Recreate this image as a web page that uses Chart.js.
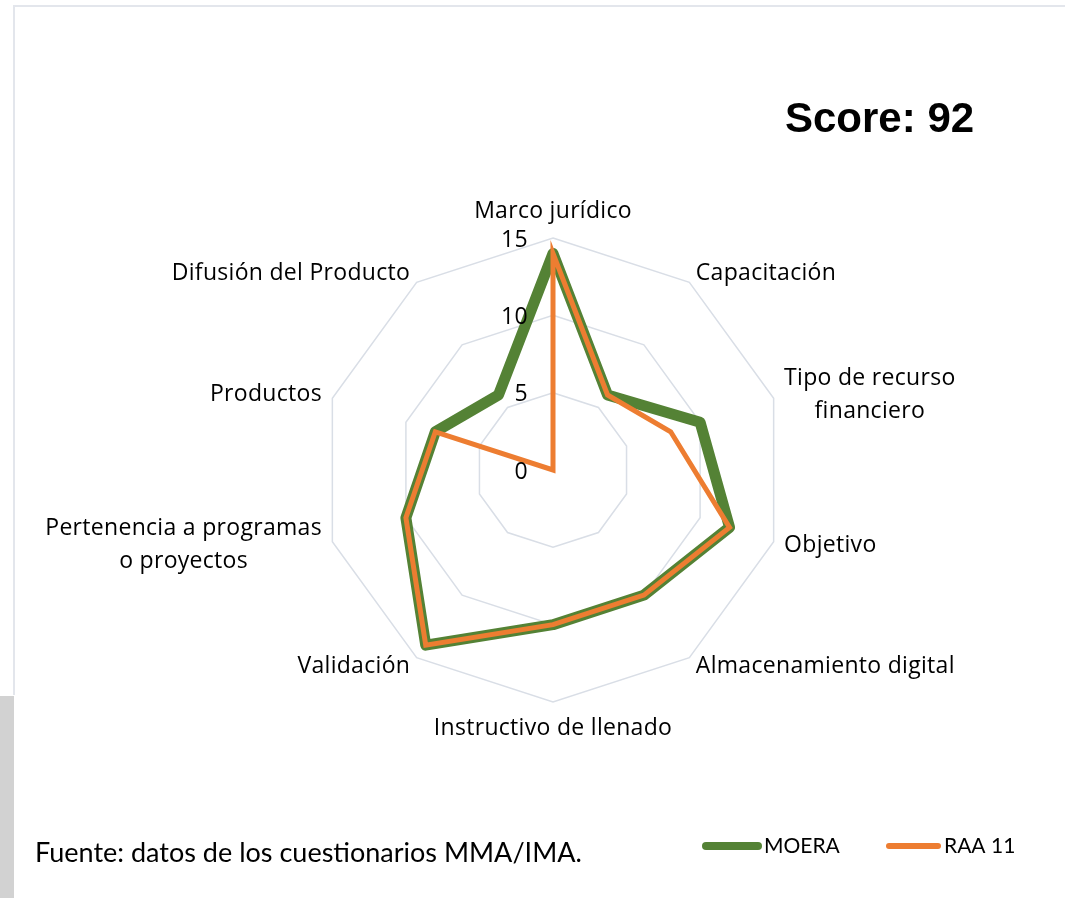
<!DOCTYPE html>
<html>
<head>
<meta charset="utf-8">
<script src="https://cdn.jsdelivr.net/npm/chart.js@4.4.1/dist/chart.umd.min.js"></script>
<style>
html,body{margin:0;padding:0;background:#ffffff;}
#wrap{position:relative;width:1065px;height:898px;overflow:hidden;background:#ffffff;}
#frameTop{position:absolute;left:13px;top:5px;width:1052px;height:2px;background:#e3e6ec;}
#frameLeft{position:absolute;left:13px;top:5px;width:2px;height:690px;background:#e3e6ec;}
#grayBlock{position:absolute;left:0;top:696px;width:14px;height:202px;background:#d2d2d2;}
#c{position:absolute;left:0;top:0;}
</style>
</head>
<body>
<div id="wrap">
  <div id="frameTop"></div>
  <div id="frameLeft"></div>
  <div id="grayBlock"></div>
  <canvas id="c" width="1065" height="898"></canvas>
</div>
<script>
// ---- data ----
const categories = [
  "Marco jurídico",
  "Capacitación",
  ["Tipo de recurso", "financiero"],
  "Objetivo",
  "Almacenamiento digital",
  "Instructivo de llenado",
  "Validación",
  ["Pertenencia a programas", "o proyectos"],
  "Productos",
  "Difusión del Producto"
];
const moera = [14, 6, 10, 12, 10, 10, 14, 10, 8, 6];
const raa11 = [14, 6, 8, 12, 10, 10, 14, 10, 8, 0];
const seriesNames = ["MOERA", "RAA 11"];
const tickValues = [0, 5, 10, 15];
const scoreText = "Score: 92";
const sourceText = "Fuente: datos de los cuestionarios MMA/IMA.";

const GREEN = "#548235";
const ORANGE = "#ED7D31";
const LABEL_FONT = "23px 'Open Sans'";

const overlay = {
  id: "overlay",
  afterDraw(chart) {
    const ctx = chart.ctx;
    const r = chart.scales.r;
    ctx.save();
    ctx.fillStyle = "#000000";
    ctx.font = LABEL_FONT;
    ctx.letterSpacing = "0.3px";
    // point labels
    const n = categories.length;
    categories.forEach((lab, i) => {
      const lines = Array.isArray(lab) ? lab : [lab];
      const p = r.getPointPosition(i, r.drawingArea + 11);
      const ang = i * 360 / n;
      const bw = Math.max(...lines.map(l => ctx.measureText(l).width));
      const lh = 33;
      const bh = lh * lines.length;
      let cx, cy;
      if (ang === 0) { cx = p.x; cy = p.y - 16 - (bh - lh) / 2; }
      else if (ang === 180) { cx = p.x; cy = p.y + 15 + (bh - lh) / 2; }
      else if (ang < 180) { cx = p.x + bw / 2; cy = p.y; }
      else { cx = p.x - bw / 2; cy = p.y; }
      ctx.textAlign = "center";
      ctx.textBaseline = "middle";
      lines.forEach((l, k) => ctx.fillText(l, cx, cy - bh / 2 + lh / 2 + k * lh));
    });
    // tick labels
    ctx.textAlign = "right";
    ctx.textBaseline = "middle";
    r.ticks.forEach(t => {
      const d = r.getDistanceFromCenterForValue(t.value);
      ctx.fillText(String(t.value), r.xCenter - 25, r.yCenter - d + 2);
    });
    ctx.letterSpacing = "0px";
    // score
    ctx.font = "bold 42px 'Liberation Sans'";
    ctx.textAlign = "left";
    ctx.textBaseline = "alphabetic";
    ctx.fillText(scoreText, 785, 132);
    // source
    ctx.font = "27px Lato";
    ctx.fillText(sourceText, 35, 862);
    // legend
    const legendX = [702, 885];
    const legendLen = [60, 57];
    const legendW = [8, 6];
    const dsByName = {};
    chart.data.datasets.forEach(ds => { dsByName[ds.label] = ds; });
    ctx.font = "21px Lato";
    seriesNames.forEach((nm, k) => {
      const ds = dsByName[nm];
      ctx.strokeStyle = ds.borderColor;
      ctx.lineWidth = legendW[k];
      ctx.lineCap = "round";
      ctx.beginPath();
      ctx.moveTo(legendX[k] + 4, 846);
      ctx.lineTo(legendX[k] + legendLen[k] - 4, 846);
      ctx.stroke();
      ctx.fillStyle = "#000000";
      ctx.fillText(nm, legendX[k] + legendLen[k] + 2, 853);
    });
    ctx.restore();
  }
};

new Chart(document.getElementById("c"), {
  type: "radar",
  data: {
    labels: categories,
    datasets: [
      {
        label: seriesNames[0], data: moera, borderColor: GREEN, backgroundColor: "rgba(0,0,0,0)",
        borderWidth: 11, pointRadius: 0, fill: false, borderJoinStyle: "round", order: 1, tension: 0
      },
      {
        label: seriesNames[1], data: raa11, borderColor: ORANGE, backgroundColor: "rgba(0,0,0,0)",
        borderWidth: 5, pointRadius: 0, fill: false, borderJoinStyle: "miter", order: 0, tension: 0
      }
    ]
  },
  options: {
    responsive: false,
    animation: false,
    devicePixelRatio: 1,
    layout: { padding: { top: 238, bottom: 196, left: 90, right: 49 } },
    plugins: { legend: { display: false }, tooltip: { enabled: false } },
    scales: {
      r: {
        min: 0, max: 15,
        afterBuildTicks: s => { s.ticks = tickValues.map(v => ({ value: v })); },
        ticks: { display: false },
        pointLabels: { display: false },
        angleLines: { display: false },
        grid: { color: "#d9dee6", lineWidth: 1.5, circular: false }
      }
    }
  },
  plugins: [overlay]
});
</script>
</body>
</html>
